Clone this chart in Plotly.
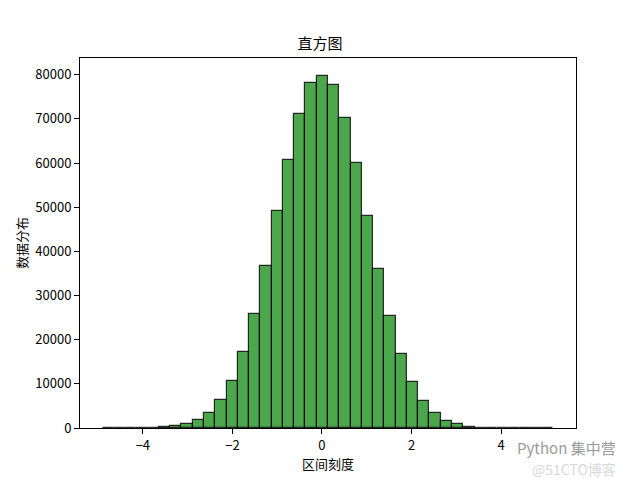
import numpy as np
import plotly.graph_objects as go

# Histogram data (40 bins)
data_min = -4.90
data_max = 5.17
n_bins = 40
counts = [2, 5, 12, 30, 80, 230, 450, 900, 1800, 3400,
          6300, 10700, 17200, 25800, 36700, 49200, 60800, 71000, 78200, 79800,
          77600, 70300, 60100, 48000, 36000, 25300, 16700, 10400, 6100, 3400,
          1600, 800, 250, 100, 40, 15, 6, 3, 1, 1]
x_ticks = [-4, -2, 0, 2, 4]
y_ticks = [0, 10000, 20000, 30000, 40000, 50000, 60000, 70000, 80000]

edges = np.linspace(data_min, data_max, n_bins + 1)
centers = (edges[:-1] + edges[1:]) / 2
width = edges[1] - edges[0]
span = data_max - data_min

font = "Noto Sans CJK SC, DejaVu Sans, sans-serif"

fig = go.Figure()
fig.add_trace(go.Bar(
    x=centers, y=counts, width=width,
    marker=dict(color="rgba(0,128,0,0.7)",
                line=dict(color="rgba(0,0,0,0.8)", width=1.2)),
    hoverinfo="x+y",
))

fig.update_layout(
    width=640, height=480,
    paper_bgcolor="white", plot_bgcolor="white",
    margin=dict(l=80, r=64, t=58, b=52, autoexpand=False),
    font=dict(family=font, size=13, color="black"),
    showlegend=False,
    bargap=0,
    title=dict(text="直方图", x=0.5, xanchor="center", y=1 - 44 / 480,
               yanchor="middle", font=dict(size=15, family=font)),
    xaxis=dict(range=[data_min - 0.05 * span, data_max + 0.05 * span],
               tickvals=x_ticks, ticktext=[str(v).replace("-", "−") for v in x_ticks],
               ticks="outside", ticklen=5, tickcolor="black",
               showline=True, linecolor="black", linewidth=1, mirror=True,
               showgrid=False, zeroline=False, automargin=False,
               title=dict(text="区间刻度", standoff=6, font=dict(size=13))),
    yaxis=dict(range=[0, max(counts) * 1.05],
               tickvals=y_ticks, ticktext=[str(v) for v in y_ticks],
               ticks="outside", ticklen=5, tickcolor="black",
               showline=True, linecolor="black", linewidth=1, mirror=True,
               showgrid=False, zeroline=False, automargin=False,
               title=dict(text="数据分布", standoff=4, font=dict(size=13))),
)

fig.add_annotation(text="Python 集中营", xref="paper", yref="paper",
                   x=(515 - 80) / 496, y=(428 - 448) / 370, xanchor="left", yanchor="middle",
                   showarrow=False, font=dict(size=15, color="#9a9a9a", family=font))
fig.add_annotation(text="@51CTO博客", xref="paper", yref="paper",
                   x=(530 - 80) / 496, y=(428 - 469) / 370, xanchor="left", yanchor="middle",
                   showarrow=False, font=dict(size=14, color="#d8d8d8", family=font))

fig.write_html("out.html", config={"displayModeBar": False},
               post_script="document.body.style.margin='0';")
